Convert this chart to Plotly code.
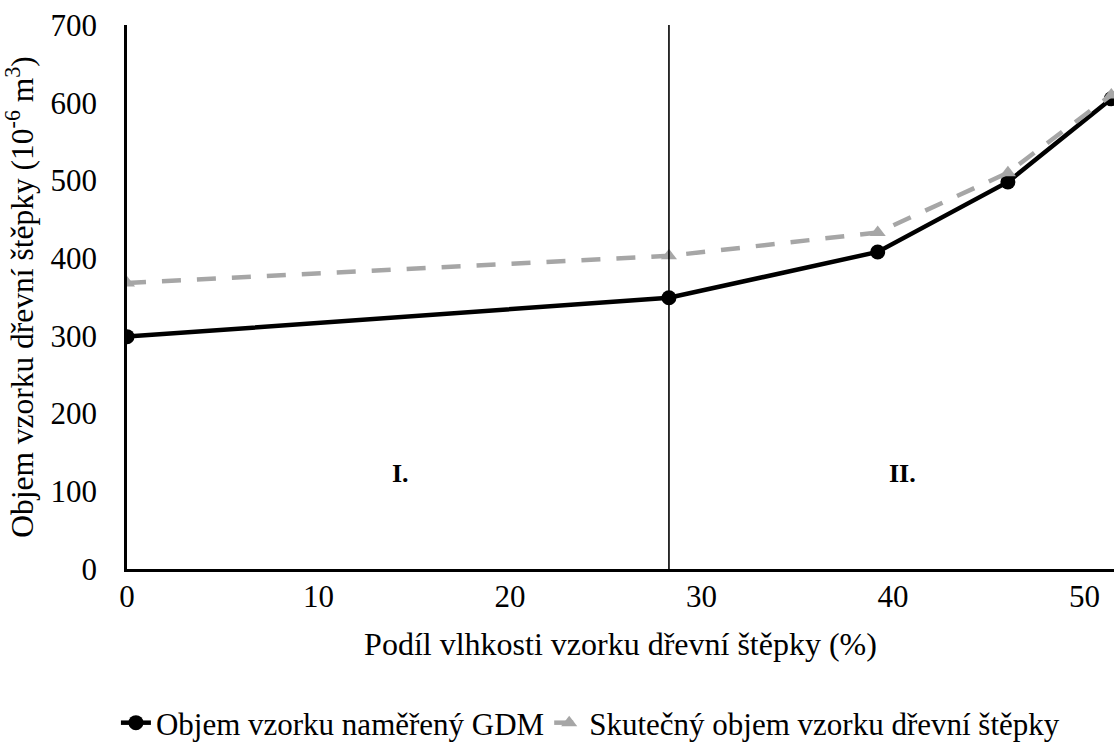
import plotly.graph_objects as go

# Moisture share of wood chip samples (%)
moisture = [0, 28.3, 39.2, 46.0, 51.4]
# Sample volume measured by GDM (10^-6 m^3)
volume_gdm = [299, 349, 408, 498, 605]
# Actual sample volume of wood chips (10^-6 m^3)
volume_actual = [368, 403, 433, 510, 610]

x_ticks = [0, 10, 20, 30, 40, 50]
y_ticks = [0, 100, 200, 300, 400, 500, 600, 700]
boundary_x = 28.3

FONT = "Liberation Serif"

fig = go.Figure()

fig.add_trace(go.Scatter(
    x=moisture, y=volume_gdm, mode="lines+markers",
    name="Objem vzorku naměřený GDM",
    line=dict(color="black", width=4.5),
    marker=dict(symbol="circle", size=15, color="black"),
))

fig.add_trace(go.Scatter(
    x=moisture, y=volume_actual, mode="lines+markers",
    name="Skutečný objem vzorku dřevní štěpky",
    line=dict(color="#A6A6A6", width=4.5, dash="19px,16px"),
    marker=dict(symbol="triangle-up", size=14, color="#A6A6A6"),
))

# Boundary between region I and II
fig.add_shape(type="line", x0=boundary_x, x1=boundary_x, y0=0, y1=700,
              xref="x", yref="y", line=dict(color="black", width=1.6))

fig.add_annotation(x=14.3, y=123, text="<b>I.</b>", showarrow=False,
                   font=dict(family=FONT, size=26, color="black"))
fig.add_annotation(x=40.5, y=123, text="<b>II.</b>", showarrow=False,
                   font=dict(family=FONT, size=26, color="black"))

fig.update_layout(
    width=1114, height=745,
    margin=dict(l=127, r=0, t=25, b=176, autoexpand=False),
    paper_bgcolor="white", plot_bgcolor="white",
    font=dict(family=FONT, size=31, color="black"),
    showlegend=True,
    legend=dict(orientation="h", xref="container", yref="container",
                x=0.53, xanchor="center", y=0.0295, yanchor="middle",
                font=dict(family=FONT, size=31, color="black"),
                itemwidth=30, bgcolor="rgba(0,0,0,0)"),
)

fig.update_xaxes(
    range=[0, 51.54], tickvals=x_ticks, showgrid=False, zeroline=False,
    showline=True, linecolor="black", linewidth=2.75, ticks="",
    ticklabelstandoff=-2, automargin=False,
    tickfont=dict(family=FONT, size=31),
    title=dict(text="Podíl vlhkosti vzorku dřevní štěpky (%)", standoff=20,
               font=dict(family=FONT, size=32)),
)
fig.update_yaxes(
    range=[0, 700], tickvals=y_ticks, showgrid=False, zeroline=False,
    showline=True, linecolor="black", linewidth=2.75, ticks="",
    ticklabelstandoff=21, automargin=False,
    tickfont=dict(family=FONT, size=31),
    title=dict(text="Objem vzorku dřevní štěpky (10<sup>-6</sup> m<sup>3</sup>)", standoff=10,
               font=dict(family=FONT, size=31.5)),
)

fig.write_html("out.html")
